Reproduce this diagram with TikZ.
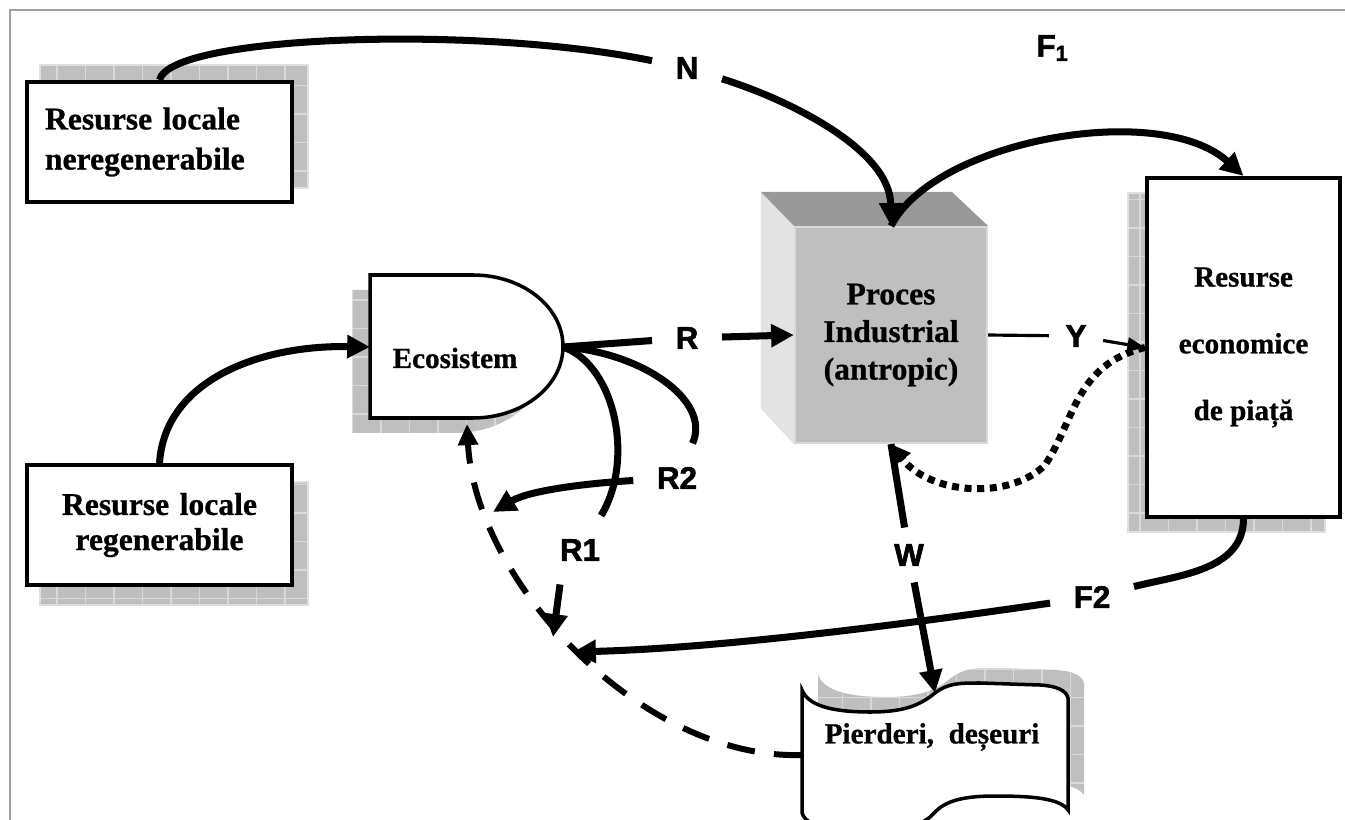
\documentclass[tikz,border=0pt]{standalone}
\usepackage{fontspec}
\setmainfont{Liberation Serif}[BoldFont={Liberation Serif Bold}, BoldFeatures={FakeBold=0.8}]
\newfontfamily\lblfont{Liberation Sans}[BoldFont={Liberation Sans Bold}, BoldFeatures={FakeBold=2}]
\usetikzlibrary{arrows.meta}

\tikzset{
  frameline/.style={draw=gray!75, line width=0.5pt},
  shadefill/.style={fill=gray!50},
  gridline/.style={draw=gray!30, line width=0.3pt},
  resbox/.style={draw, line width=1.15pt, fill=white, inner sep=0pt,
    minimum width=26.5mm, minimum height=12mm, text width=22.9mm},
  mktbox/.style={draw, line width=1.15pt, fill=white, minimum width=19.3mm,
    minimum height=33.9mm, align=center, font=\bfseries\fontsize{8.3}{19}\selectfont},
  cubefront/.style={fill=gray!50, draw=gray!30, line width=0.6pt, minimum width=19.2mm,
    minimum height=21.6mm, align=center, font=\bfseries\fontsize{9}{10.7}\selectfont},
  body/.style={font=\bfseries\fontsize{8.3}{10}\selectfont},
  lbl/.style={font=\lblfont\bfseries\fontsize{8.9}{10}\selectfont, inner sep=2.3mm},
  nearlbl/.style={lbl, inner sep=1.6mm},
  link/.style={line width=2pt},
  flow/.style={link, -{Triangle[length=6.5pt,width=6.3pt]}},
  thinflow/.style={line width=0.9pt, -{Triangle[length=5pt,width=4pt]}},
  backflow/.style={line width=1.7pt, dash pattern=on 8pt off 5.5pt,
    -{Triangle[length=6pt,width=5.5pt]}},
  dotflow/.style={line width=2pt, dash pattern=on 2pt off 1.6pt,
    -{Triangle[length=5.5pt,width=5.5pt]}},
}

% shaded grid behind a box
\newcommand{\gridrect}[2]{%
  \fill[shadefill] #1 rectangle #2;
  \draw[gridline, step=2.85mm] #1 grid #2;
  \draw[draw=gray!25, line width=0.4pt] #1 rectangle #2;}

\newcommand{\ecopath}{(370,275) -- (473,275)
  arc[start angle=90, end angle=-90, x radius=9mm, y radius=7.15mm] -- (370,418) -- cycle}

\newcommand{\wavepath}{(802,690) .. controls (808,705) and (830,712) .. (870,712)
  .. controls (905,712) and (920,705) .. (935,693)
  .. controls (948,683) and (960,683) .. (980,683) -- (1040,685)
  .. controls (1056,686) and (1066,690) .. (1068,698) -- (1068,810)
  .. controls (1060,798) and (1030,796) .. (995,796)
  .. controls (960,796) and (945,802) .. (935,812)
  .. controls (928,820) and (920,826) .. (900,826) -- (830,826)
  .. controls (815,826) and (805,822) .. (802,813) -- cycle}

\begin{document}
\begin{tikzpicture}[x=0.1mm, y=-0.1mm]
    \useasboundingbox (0,0) rectangle (1345,820);
    \draw[frameline] (1345,10) -- (10,10) -- (10,820);

    % shadows
    \gridrect{(40,65)}{(308,188)}
    \gridrect{(40,482)}{(308,605)}
    \gridrect{(1128,193)}{(1325,532)}
    \begin{scope}[shift={(-18,15)}]
        \clip \ecopath;
        \fill[shadefill] (300,250) rectangle (600,450);
        \draw[gridline, step=2.85mm] (300,250) grid (600,450);
    \end{scope}
    \begin{scope}[shift={(16,-15)}]
        \clip \wavepath;
        \fill[shadefill] (780,650) rectangle (1100,840);
        \draw[gridline, step=2.85mm] (780,650) grid (1100,840);
    \end{scope}

    % boxes
    \node (nereg) at (159.5,142) [resbox, align=left,
        font=\bfseries\fontsize{9}{11.4}\selectfont] {Resurse locale\\neregenerabile};
    \node (reg) at (159.5,525) [resbox, align=center,
        font=\bfseries\fontsize{9}{10}\selectfont] {Resurse locale\\regenerabile};

    \draw[line width=1pt, fill=white] \ecopath;
    \node (eco) at (455,358) [body] {Ecosistem};
    \coordinate (eco-w) at (370,347);
    \coordinate (eco-e) at (563,347);
    \coordinate (eco-s) at (467,424);

    \node (proc) at (891,335) [cubefront] {Proces\\Industrial\\(antropic)};
    \fill[gray!22] (proc.north west) -- ++(-33,-34) -- ++(0,217) -- (proc.south west) -- cycle;
    \fill[gray!80] (proc.north west) -- ++(-33,-34) -- ++(191,0) -- (proc.north east) -- cycle;

    \node (piata) at (1243.5,347.5) [mktbox] {Resurse\\economice\\de piață};

    \draw[line width=1pt, fill=white] \wavepath;
    \node (pierd) at (932,737) [body] {Pierderi,~ deșeuri};
    \coordinate (pierd-w) at (802,755);
    \coordinate (pierd-n) at (935,693);

    % labels
    \node (N) at (687,68) [lbl] {N};
    \node (F1) at (1053,48) [lbl] {F\textsubscript{1}};
    \node (R) at (687,338) [lbl] {R};
    \node (Y) at (1076,336) [nearlbl] {Y};
    \node (R2) at (677,478) [lbl] {R2};
    \node (R1) at (580,550) [lbl] {R1};
    \node (W) at (909,555) [nearlbl] {W};
    \node (F2) at (1092,597) [lbl] {F2};
    \coordinate (r1end) at (553,637);
    \coordinate (r2end) at (493,512);
    \coordinate (f2end) at (573,652);

    % connectors
    \draw[link] (nereg.north) .. controls (170,35) and (480,25) .. (N);
    \draw[flow] (N) .. controls (790,100) and (890,150) .. (proc.north);
    \draw[flow] (proc.north) .. controls (935,140) and (1160,100) .. (piata.north);
    \draw[flow] (reg.north) .. controls (165,380) and (260,345) .. (eco-w);
    \draw[link] (eco-e) -- (R);
    \draw[flow] (R) -- (proc.west);
    \draw[line width=0.9pt] (proc.east) -- (Y);
    \draw[thinflow] (Y) -- (piata.west);
    \draw[dotflow] (piata.west) .. controls (1075,365) and (1075,420) .. (1045,465)
        .. controls (1010,500) and (930,495) .. (proc.south);
    \draw[link] (eco-e) .. controls (640,352) and (712,400) .. (R2);
    \draw[flow] (R2) .. controls (590,483) and (530,490) .. (r2end);
    \draw[link] (eco-e) .. controls (615,365) and (635,460) .. (R1);
    \draw[flow] ([xshift=-2mm]R1.south) -- (r1end);
    \draw[link] (proc.south) -- (W);
    \draw[flow] (W) -- (pierd-n);
    \draw[link] (piata.south) .. controls (1243,570) and (1180,575) .. (F2);
    \draw[flow] (F2) .. controls (900,625) and (720,648) .. (f2end);
    \draw[backflow] (pierd-w) .. controls (640,760) and (475,580) .. (eco-s);
\end{tikzpicture}
\end{document}
